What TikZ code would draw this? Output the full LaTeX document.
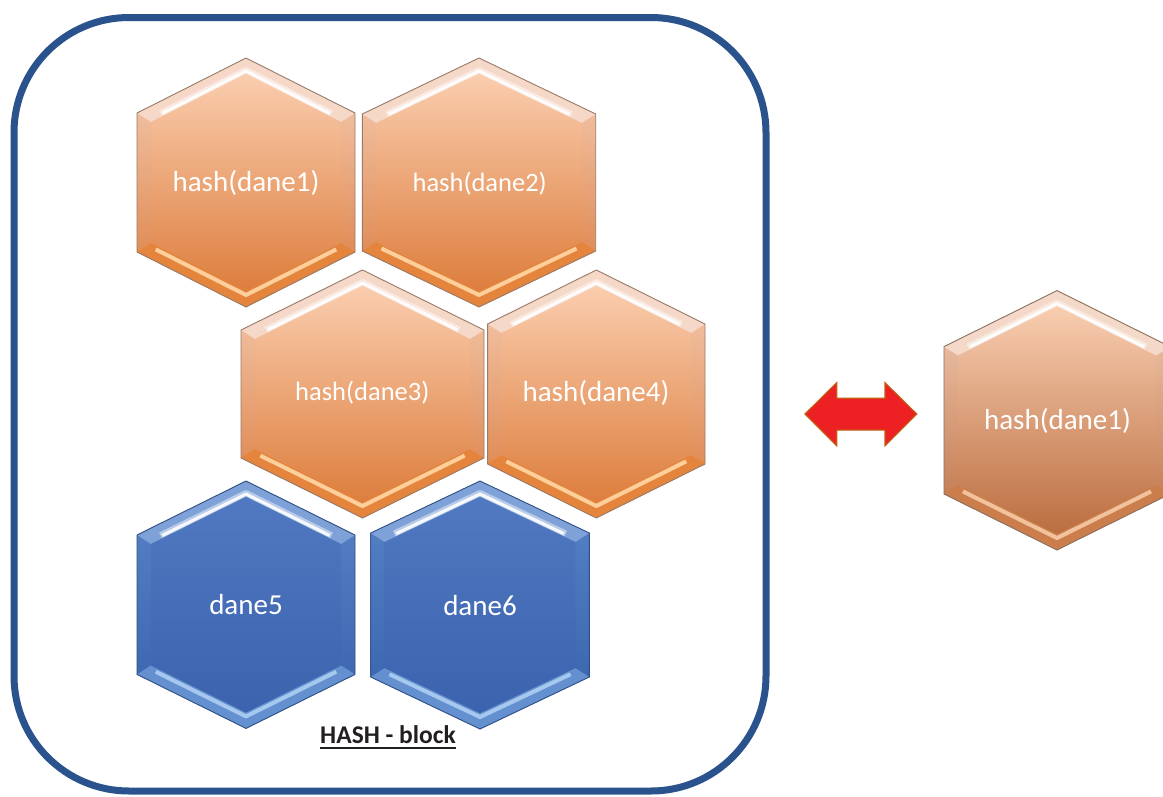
\documentclass[tikz,border=0pt]{standalone}
\usepackage{fontspec}
\setmainfont{Carlito}
\usetikzlibrary{calc}
\definecolor{boxblue}{HTML}{2A528C}
\definecolor{labeldark}{HTML}{231F20}
\definecolor{arrowred}{HTML}{ED2024}
\definecolor{arrowedge}{HTML}{C55A11}
% orange palette
\definecolor{orgTop}{HTML}{F6D0B8}
\definecolor{orgBot}{HTML}{DA7A3C}
\definecolor{orgFac}{HTML}{F5D8C7}
\definecolor{orgITop}{HTML}{FACDAE}
\definecolor{orgIBot}{HTML}{DD7E3E}
\definecolor{orgLo}{HTML}{E5843C}
\definecolor{orgHL}{HTML}{FDCF9A}
\definecolor{orgEdge}{HTML}{9A7A68}
% right (brownish) palette
\definecolor{rhTop}{HTML}{F5CFB8}
\definecolor{rhBot}{HTML}{B86A3C}
\definecolor{rhFac}{HTML}{F4D8C8}
\definecolor{rhITop}{HTML}{F8CDB0}
\definecolor{rhIBot}{HTML}{BB6E40}
\definecolor{rhLo}{HTML}{CB7E4C}
\definecolor{rhHL}{HTML}{F2C29D}
\definecolor{rhEdge}{HTML}{8C7060}
% blue palette
\definecolor{bluTop}{HTML}{5B85C8}
\definecolor{bluBot}{HTML}{3660AA}
\definecolor{bluFac}{HTML}{7EA2D8}
\definecolor{bluITop}{HTML}{5079C1}
\definecolor{bluIBot}{HTML}{3B63AE}
\definecolor{bluLo}{HTML}{6590D0}
\definecolor{bluHL}{HTML}{A4C8EE}
\definecolor{bluEdge}{HTML}{2F4F85}
\tikzset{
  hextext/.style={text=white, inner sep=0pt, anchor=center},
  bigtext/.style={hextext, font=\fontsize{29}{34}\selectfont},
  smalltext/.style={hextext, font=\fontsize{26.5}{31}\selectfont},
  outerbox/.style={draw=boxblue, line width=7pt, rounded corners=115pt},
  arrowshape/.style={fill=arrowred, draw=arrowedge, line width=1.2pt, line join=miter},
  blocklabel/.style={text=labeldark, inner sep=0pt, anchor=base, font=\bfseries\fontsize{25.5}{30}\selectfont}
}
% #1 cx, #2 cy, #3 half width, #4 half height, #5 vertex drop, #6 palette
\newcommand\hexcell[6]{%
\begin{scope}[shift={(#1,#2)}]
\coordinate (T) at (0,{-#4});
\coordinate (UR) at ({#3},{-#4+#5});
\coordinate (LR) at ({#3},{#4-#5});
\coordinate (B) at (0,{#4});
\coordinate (LL) at ({-#3},{#4-#5});
\coordinate (UL) at ({-#3},{-#4+#5});
\coordinate (Ti) at (0,{-#4+16});
\coordinate (URi) at ({#3-14},{-#4+#5+9});
\coordinate (LRi) at ({#3-14},{#4-#5-9});
\coordinate (Bi) at (0,{#4-16});
\coordinate (LLi) at ({-#3+14},{#4-#5-9});
\coordinate (ULi) at ({-#3+14},{-#4+#5+9});
\shade[top color=#6Top, bottom color=#6Bot] (T)--(UR)--(LR)--(B)--(LL)--(UL)--cycle;
\fill[#6Fac] (UL)--(T)--(UR)--(URi)--(Ti)--(ULi)--cycle;
\fill[#6Lo] (LL)--(B)--(LR)--(LRi)--(Bi)--(LLi)--cycle;
\shade[top color=#6ITop, bottom color=#6IBot] (Ti)--(URi)--(LRi)--(Bi)--(LLi)--(ULi)--cycle;
\draw[white, line width=6pt, opacity=.45, line join=round]
  ($(ULi)!.1!(Ti)+(0,-4)$)--($(Ti)+(0,-4)$)--($(URi)!.1!(Ti)+(0,-4)$);
\draw[white, line width=3pt, opacity=.9, line join=round]
  ($(ULi)!.12!(Ti)+(0,-3)$)--($(Ti)+(0,-3)$)--($(URi)!.12!(Ti)+(0,-3)$);
\draw[#6HL, line width=4pt, line join=round]
  ($(LLi)!.05!(Bi)+(0,4)$)--($(Bi)+(0,4)$)--($(LRi)!.05!(Bi)+(0,4)$);
\draw[#6Edge, line width=.9pt, line join=miter] (T)--(UR)--(LR)--(B)--(LL)--(UL)--cycle;
\end{scope}}
\begin{document}
\begin{tikzpicture}[x=1pt, y=-1pt]
\clip (0,0) rectangle (1163,796);
\fill[white] (0,0) rectangle (1163,796);

\draw[outerbox] (14,17.5) rectangle (766,791);

\hexcell{246}{182.5}{109}{124.5}{55}{org}
\node[bigtext] (h1) at (246,183) {hash(dane1)};
\hexcell{479}{182.5}{116.7}{124.5}{56}{org}
\node[smalltext] (h2) at (479.7,184) {hash(dane2)};
\hexcell{362.5}{394}{121.5}{124}{60}{org}
\node[smalltext] (h3) at (362.3,393) {hash(dane3)};
\hexcell{596.3}{394}{108.7}{124}{54}{org}
\node[bigtext] (h4) at (596,393) {hash(dane4)};
\hexcell{246}{604.7}{109}{123.7}{54}{blu}
\node[bigtext] (h5) at (246,605) {dane5};
\hexcell{480}{605}{109.3}{124}{52}{blu}
\node[bigtext] (h6) at (480,605.5) {dane6};
\hexcell{1057}{420.3}{113}{129.7}{56}{rh}
\node[bigtext] (hr) at (1057.5,420.5) {hash(dane1)};

\node[blocklabel] (lbl) at (388,743) {HASH - block};
\draw[labeldark, line width=2pt] ([yshift=-4.7pt]lbl.base west) -- ([yshift=-4.7pt]lbl.base east);

\draw[arrowshape] (805,414) -- (836.7,382.7) -- (836.7,398.3) -- (885,398.3) -- (885,382.7)
  -- (916.7,414) -- (885,445.7) -- (885,430) -- (836.7,430) -- (836.7,445.7) -- cycle;
\end{tikzpicture}
\end{document}
